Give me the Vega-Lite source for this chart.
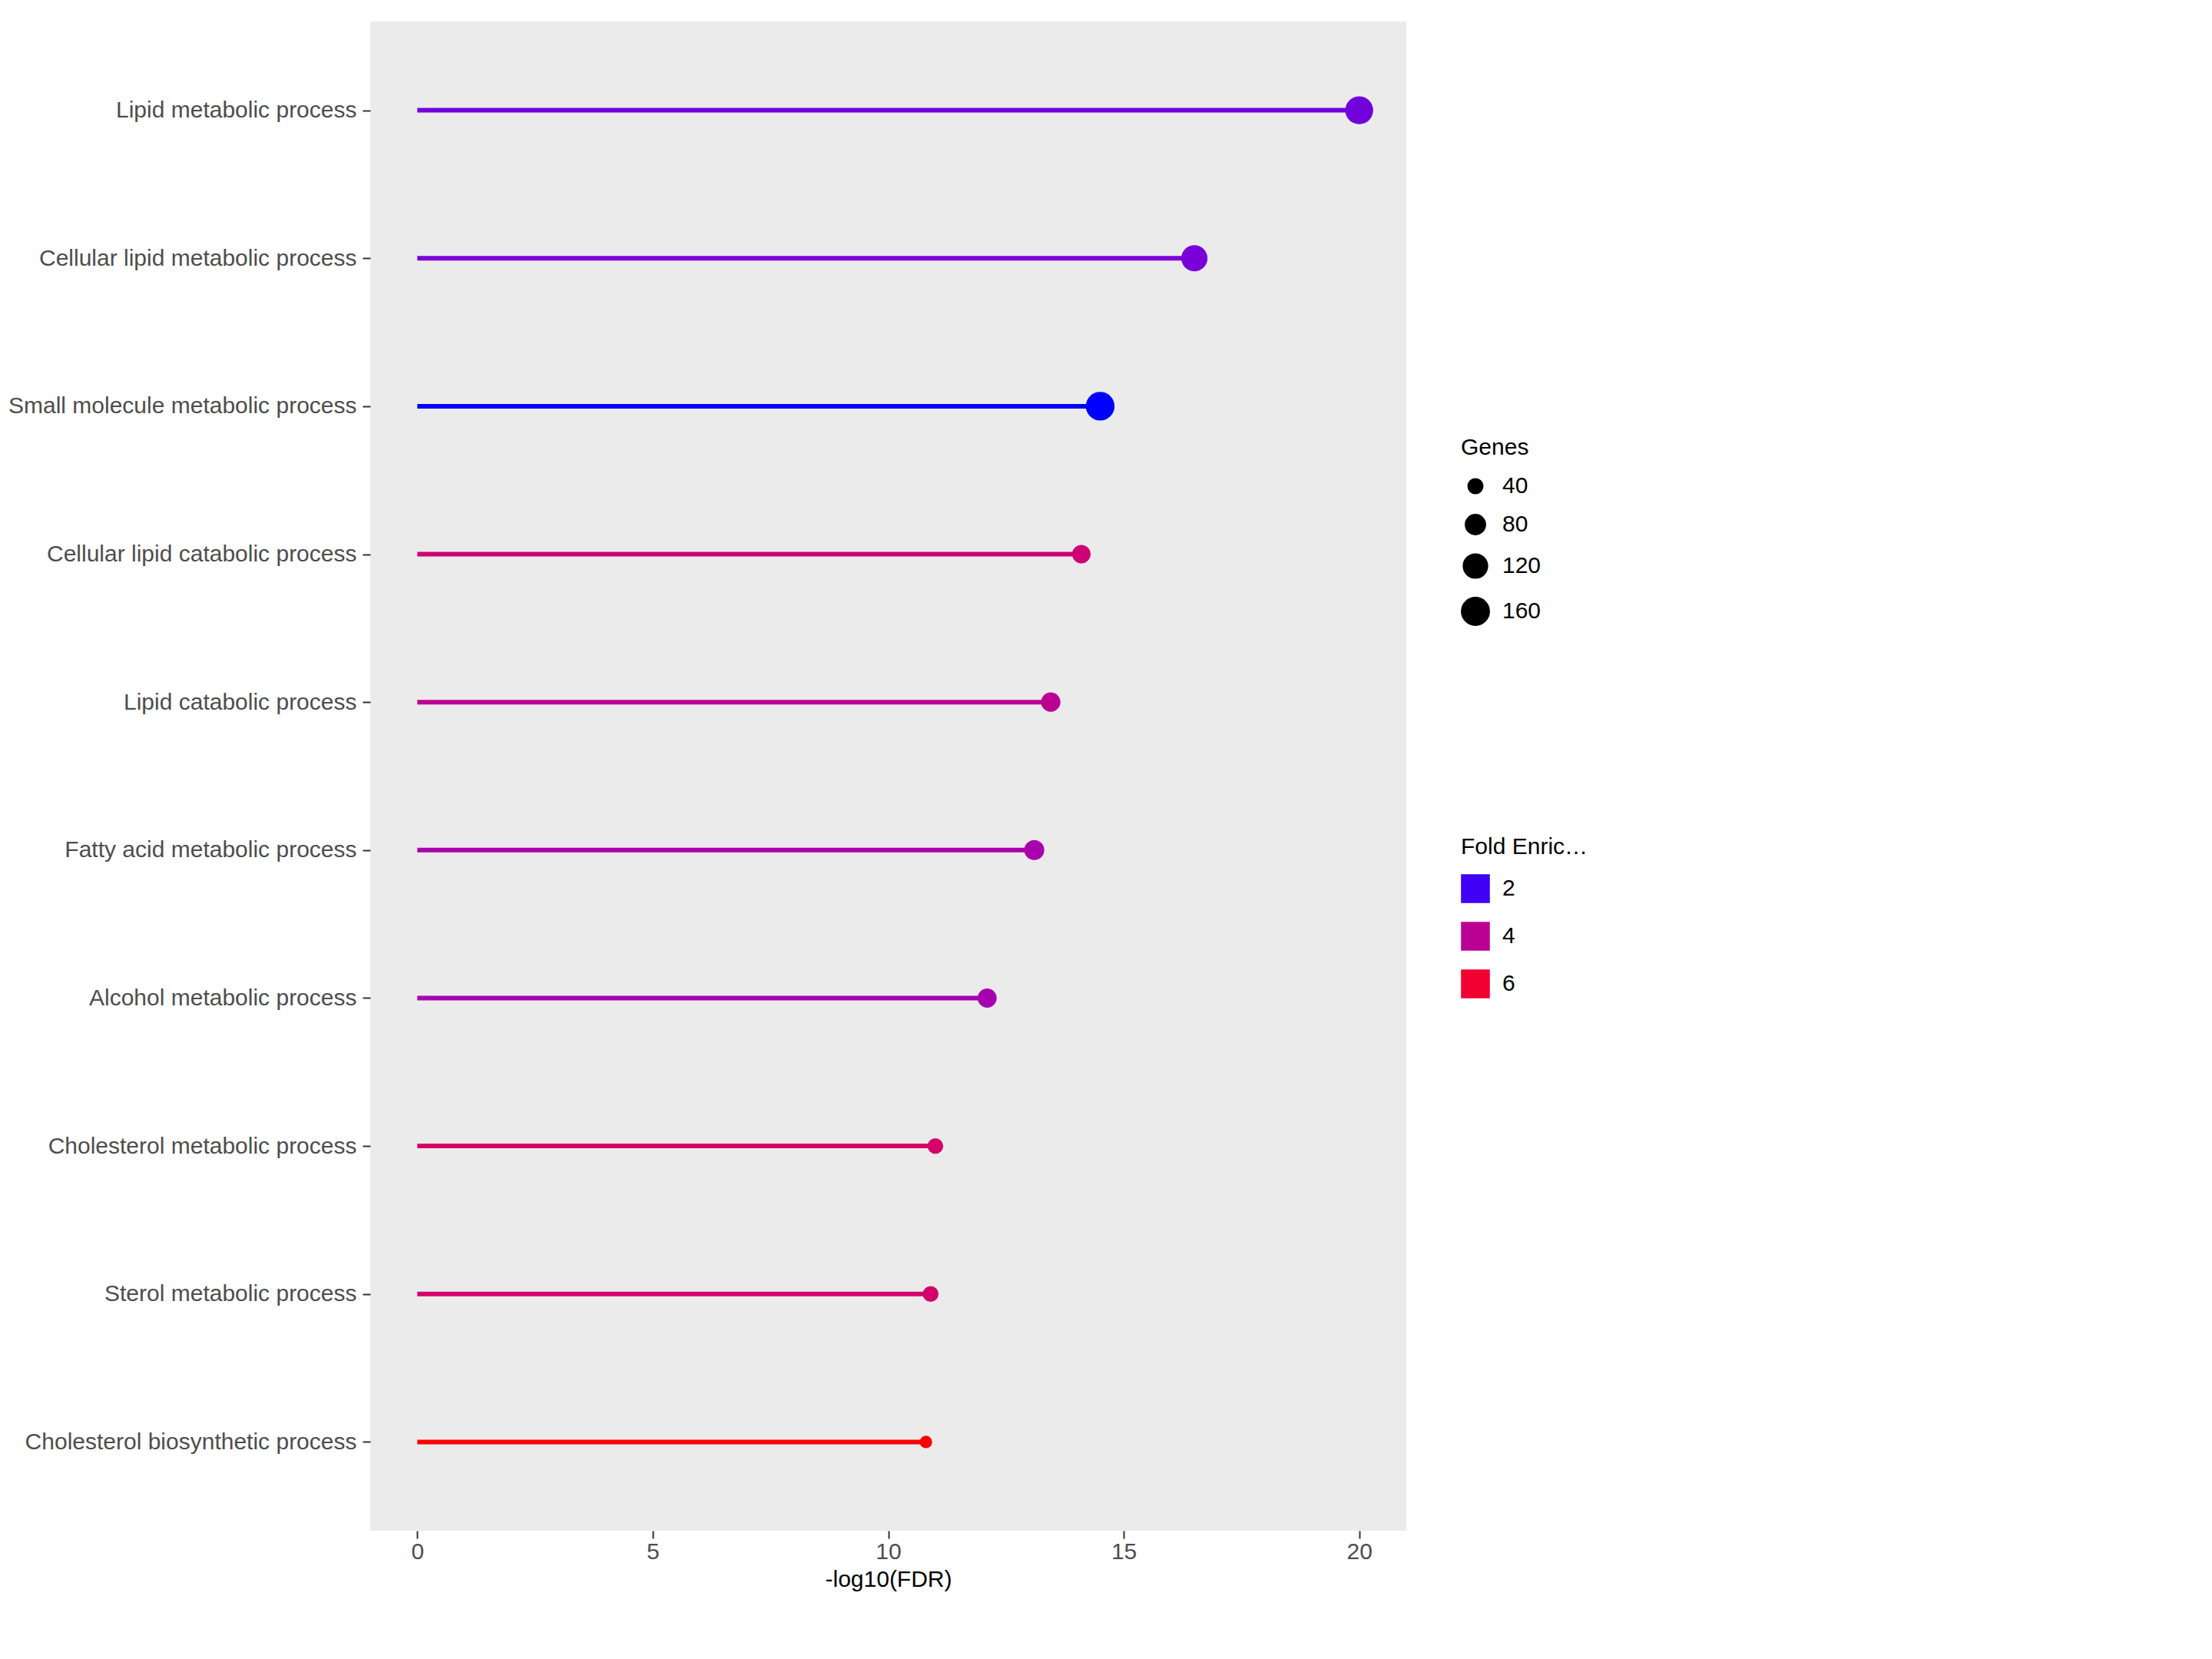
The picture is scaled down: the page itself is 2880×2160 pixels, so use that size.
{
  "$schema": "https://vega.github.io/schema/vega-lite/v6.json",
  "width": 1349,
  "height": 1965,
  "padding": {"left": 10, "top": 28, "right": 10, "bottom": 10},
  "background": "white",
  "config": {
    "view": {"fill": "#EBEBEB", "stroke": null},
    "font": "Liberation Sans",
    "legend": {"titleFontSize": 30, "titleFontWeight": "normal", "titleColor": "black", "labelFontSize": 30, "labelColor": "black", "rowPadding": 18, "titlePadding": 20, "labelOffset": 16, "fillColor": null}
  },
  "data": {"values": [
    {"term": "Lipid metabolic process", "fdr": 20.0, "genes": 160, "fold": 2.5},
    {"term": "Cellular lipid metabolic process", "fdr": 16.5, "genes": 140, "fold": 2.6},
    {"term": "Small molecule metabolic process", "fdr": 14.5, "genes": 170, "fold": 1.8},
    {"term": "Cellular lipid catabolic process", "fdr": 14.1, "genes": 65, "fold": 4.6},
    {"term": "Lipid catabolic process", "fdr": 13.45, "genes": 72, "fold": 4.0},
    {"term": "Fatty acid metabolic process", "fdr": 13.1, "genes": 78, "fold": 3.5},
    {"term": "Alcohol metabolic process", "fdr": 12.1, "genes": 70, "fold": 3.4},
    {"term": "Cholesterol metabolic process", "fdr": 11.0, "genes": 45, "fold": 4.9},
    {"term": "Sterol metabolic process", "fdr": 10.9, "genes": 45, "fold": 4.8},
    {"term": "Cholesterol biosynthetic process", "fdr": 10.8, "genes": 25, "fold": 6.6}
  ]},
  "encoding": {
    "y": {
      "field": "term", "type": "nominal", "sort": {"field": "fdr", "order": "descending"},
      "scale": {"type": "point", "padding": 0.6},
      "axis": {"title": null, "labelFontSize": 30, "labelColor": "#4D4D4D", "labelPadding": 8, "labelLimit": 0,
        "tickColor": "#333333", "tickSize": 10, "tickWidth": 2, "domain": false, "grid": false}
    },
    "x": {
      "field": "fdr", "type": "quantitative",
      "scale": {"domain": [-1, 21], "nice": false, "zero": false},
      "axis": {"title": "-log10(FDR)", "titleFontSize": 30, "titleFontWeight": "normal", "titleColor": "black",
        "values": [0, 5, 10, 15, 20], "labelFontSize": 30, "labelColor": "#4D4D4D",
        "tickColor": "#333333", "tickSize": 10, "tickWidth": 2, "domain": false, "grid": false, "titlePadding": 6}
    },
    "color": {
      "field": "fold", "type": "quantitative", "title": "Fold Enrichment",
      "scale": {"domain": [1.8, 6.6], "range": ["#0000FF", "#FF0000"], "interpolate": "lab"},
      "legend": {"type": "symbol", "values": [2, 4, 6], "symbolType": "square", "symbolSize": 1300,
        "orient": "none", "legendX": 1420, "legendY": 1060}
    }
  },
  "layer": [
    {
      "mark": {"type": "rule", "strokeWidth": 6},
      "encoding": {"x2": {"datum": 0}}
    },
    {
      "mark": {"type": "circle", "opacity": 1},
      "encoding": {
        "size": {
          "field": "genes", "type": "quantitative", "title": "Genes",
          "scale": {"domain": [0, 200], "range": [67, 1633], "zero": false},
          "legend": {"values": [40, 80, 120, 160], "symbolFillColor": "black", "symbolStrokeColor": "black",
            "orient": "none", "legendX": 1420, "legendY": 540}
        }
      }
    }
  ],
  "autosize": {"type": "pad"}
}
